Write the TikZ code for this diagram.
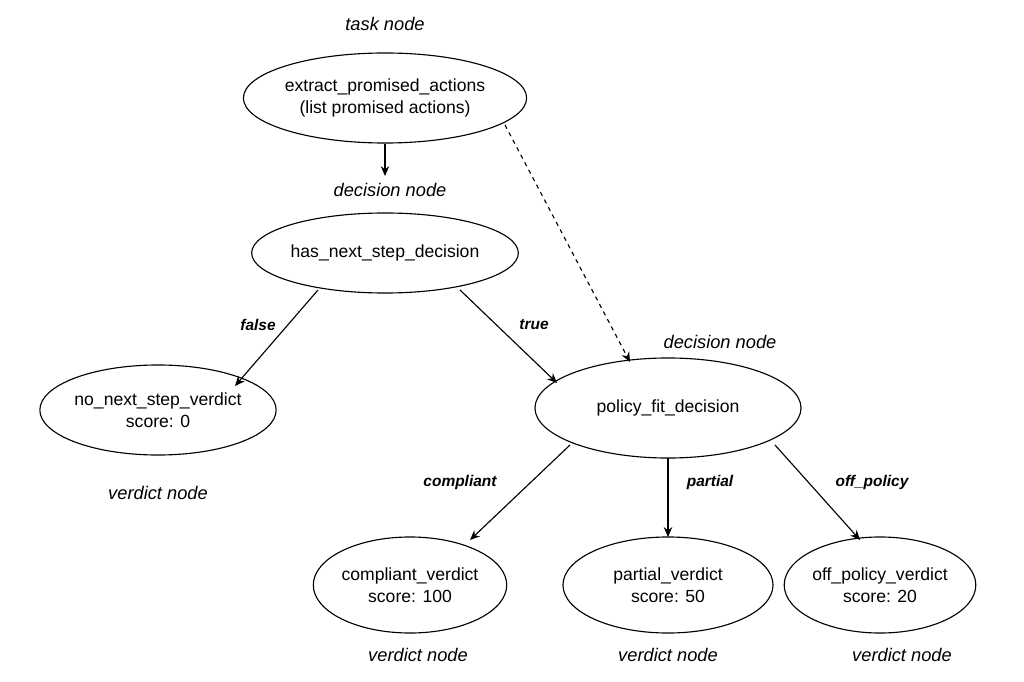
\documentclass[tikz,border=0pt]{standalone}
\usepackage{fontspec}
\setmainfont{Liberation Sans}
\usetikzlibrary{shapes.geometric,arrows.meta}
\tikzset{
  tnode/.style={ellipse,draw,thick,align=center,inner sep=0pt,font=\fontsize{12.5}{16}\selectfont},
  kind/.style={font=\fontsize{13}{15}\selectfont\itshape},
  elabel/.style={font=\fontsize{11}{14}\selectfont\bfseries\itshape},
  link/.style={-{Stealth[length=7pt,width=6pt]},thick}
}
\begin{document}
\begin{tikzpicture}[x=0.025cm,y=-0.025cm]
        \useasboundingbox (0,0) rectangle (1024,682);
        % Nodes
        \node[tnode,minimum width=6.25cm,minimum height=2.25cm] (extract) at (385,98) {extract\_promised\_actions\\(list promised actions)};
        \node[tnode,minimum width=6.1cm,minimum height=2cm] (hasnext) at (385,253) {has\_next\_step\_decision};
        \node[tnode,minimum width=5.5cm,minimum height=2.25cm] (nonext) at (158,410) {no\_next\_step\_verdict\\score: 0};
        \node[tnode,minimum width=6.65cm,minimum height=2.5cm] (policy) at (668,408) {policy\_fit\_decision};
        \node[tnode,minimum width=4.4cm,minimum height=2.4cm] (compliant) at (410,585) {compliant\_verdict\\score: 100};
        \node[tnode,minimum width=5.25cm,minimum height=2.4cm] (partial) at (668,585) {partial\_verdict\\score: 50};
        \node[tnode,minimum width=4cm,minimum height=2.4cm] (offpolicy) at (880,585) {off\_policy\_verdict\\score: 20};
        % Kinds
        \node[kind] (k1) at (385,24) {task node};
        \node[kind] (k2) at (390,190) {decision node};
        \node[kind] (k3) at (720,342) {decision node};
        \node[kind] (k4) at (158,493) {verdict node};
        \node[kind] (k5) at (418,655) {verdict node};
        \node[kind] (k6) at (668,655) {verdict node};
        \node[kind] (k7) at (902,655) {verdict node};
        % Edge ends
        \coordinate (hastop) at (385,176);
        \coordinate (exs) at (505,125);  \coordinate (pon) at (630,362);
        \coordinate (hsw) at (318,290);  \coordinate (nne) at (235,386);
        \coordinate (hse) at (460,290);  \coordinate (pnw) at (557,383);
        \coordinate (psw) at (570,445);  \coordinate (cne) at (470,540);
        \coordinate (ps) at (668,458);   \coordinate (pn) at (668,537);
        \coordinate (pse) at (775,445);  \coordinate (one) at (860,540);
        % Edges
        \draw[link] (extract) -- (hastop);
        \draw[link,dashed] (exs) -- (pon);
        \draw[link] (hsw) -- (nne);
        \draw[link] (hse) -- (pnw);
        \draw[link] (psw) -- (cne);
        \draw[link] (ps) -- (pn);
        \draw[link] (pse) -- (one);
        % Edge labels
        \node[elabel] (lf) at (258,325) {false};
        \node[elabel] (lt) at (534,325) {true};
        \node[elabel] (lc) at (460,482) {compliant};
        \node[elabel] (lp) at (710,482) {partial};
        \node[elabel] (lo) at (872,482) {off\_policy};
\end{tikzpicture}
\end{document}
